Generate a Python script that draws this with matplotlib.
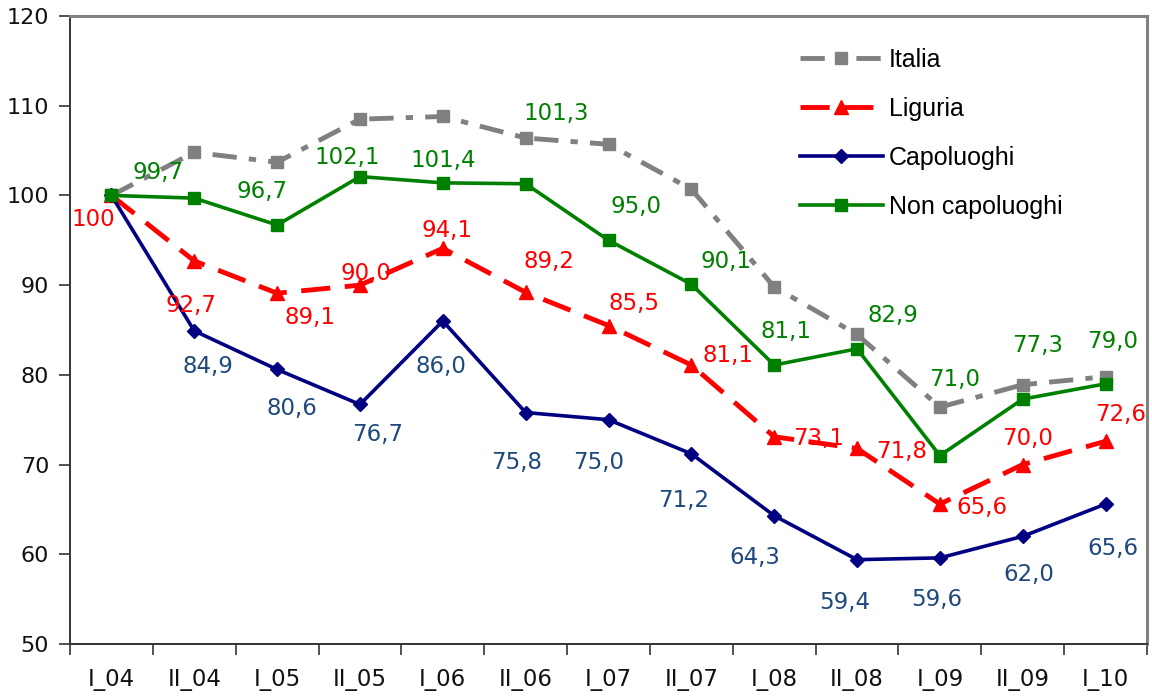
import matplotlib
matplotlib.use("Agg")
import matplotlib.pyplot as plt

periods = ["I_04", "II_04", "I_05", "II_05", "I_06", "II_06", "I_07",
           "II_07", "I_08", "II_08", "I_09", "II_09", "I_10"]

italia = [100.0, 104.8, 103.7, 108.5, 108.8, 106.4, 105.7,
          100.7, 89.8, 84.5, 76.4, 78.9, 79.8]
liguria = [100.0, 92.7, 89.1, 90.0, 94.1, 89.2, 85.5,
           81.1, 73.1, 71.8, 65.6, 70.0, 72.6]
capoluoghi = [100.0, 84.9, 80.6, 76.7, 86.0, 75.8, 75.0,
              71.2, 64.3, 59.4, 59.6, 62.0, 65.6]
non_capoluoghi = [100.0, 99.7, 96.7, 102.1, 101.4, 101.3, 95.0,
                  90.1, 81.1, 82.9, 71.0, 77.3, 79.0]

liguria_text = ["100", "92,7", "89,1", "90,0", "94,1", "89,2", "85,5",
                "81,1", "73,1", "71,8", "65,6", "70,0", "72,6"]

# label offsets in pixels (dx right, dy down)
lig_off = [(-18, 24), (-3, 45), (33, 24), (6, -12), (4, -18), (23, -31), (26, -22),
           (37, -9), (44, 2), (45, 3), (42, 3), (5, -26), (15, -27)]
cap_off = [None, (14, 36), (15, 39), (18, 30), (-2, 45), (-9, 50), (-10, 43),
           (-8, 47), (-19, 42), (-12, 43), (-3, 42), (6, 38), (7, 44)]
non_off = [None, (-36, -26), (-15, -34), (-13, -19), (0, -22), (31, -70), (28, -34),
           (35, -23), (12, -33), (36, -33), (15, -76), (15, -54), (7, -42)]

fig = plt.figure(figsize=(11.52, 6.98), dpi=100)
ax = fig.add_axes([70 / 1152, 54 / 698, 1077 / 1152, 628 / 698])

x = list(range(len(periods)))

ax.plot(x, italia, color="#808080", lw=3.5, dashes=(5, 2.5, 1.5, 2.5),
        marker="s", markersize=8.5, label="Italia", zorder=2)
ax.plot(x, liguria, color="#ff0000", lw=3.5, dashes=(6, 3),
        marker="^", markersize=10, label="Liguria", zorder=3)
ax.plot(x, capoluoghi, color="#000080", lw=2.6,
        marker="D", markersize=7.5, label="Capoluoghi", zorder=4)
ax.plot(x, non_capoluoghi, color="#008000", lw=2.6,
        marker="s", markersize=8.5, label="Non capoluoghi", zorder=5)

lab_font = dict(fontsize=16.5, family="DejaVu Sans", ha="center", va="center",
                textcoords="offset pixels")


def fmt(v):
    return f"{v:.1f}".replace(".", ",")


for i, v in enumerate(liguria):
    dx, dy = lig_off[i]
    ax.annotate(liguria_text[i], (i, v), xytext=(dx, -dy), color="#ff0000",
                zorder=6, **lab_font)
for i, v in enumerate(capoluoghi):
    if cap_off[i] is None:
        continue
    dx, dy = cap_off[i]
    ax.annotate(fmt(v), (i, v), xytext=(dx, -dy), color="#1f497d",
                zorder=6, **lab_font)
for i, v in enumerate(non_capoluoghi):
    if non_off[i] is None:
        continue
    dx, dy = non_off[i]
    ax.annotate(fmt(v), (i, v), xytext=(dx, -dy), color="#008000",
                zorder=6, **lab_font)

ax.set_xlim(-0.5, len(periods) - 0.5)
ax.set_ylim(50, 120)
ax.set_yticks(range(50, 121, 10))
ax.set_xticks(x)
ax.set_xticklabels(periods)
ax.set_xticks([i + 0.5 for i in range(-1, len(periods))], minor=True)

ax.tick_params(axis="x", which="major", length=0, pad=17, labelsize=16.5)
ax.tick_params(axis="x", which="minor", length=8, width=1.2, color="#333333")
ax.tick_params(axis="y", length=8, width=1.2, color="#333333", pad=7,
               labelsize=16)
for lab in ax.get_xticklabels() + ax.get_yticklabels():
    lab.set_family("DejaVu Sans")
    lab.set_color("#111111")

for side in ("left", "bottom"):
    ax.spines[side].set_color("#333333")
    ax.spines[side].set_linewidth(1.4)
for side in ("top", "right"):
    ax.spines[side].set_color("#808080")
    ax.spines[side].set_linewidth(2.2)

leg = ax.legend(loc="upper left", bbox_to_anchor=(800 / 1152, 1 - 48 / 698),
                bbox_transform=fig.transFigure, frameon=False, borderpad=0,
                borderaxespad=0, handlelength=3.3, handletextpad=0.25,
                labelspacing=1.0, prop={"family": "Liberation Sans", "size": 18})

fig.savefig("out.png", dpi=100)
